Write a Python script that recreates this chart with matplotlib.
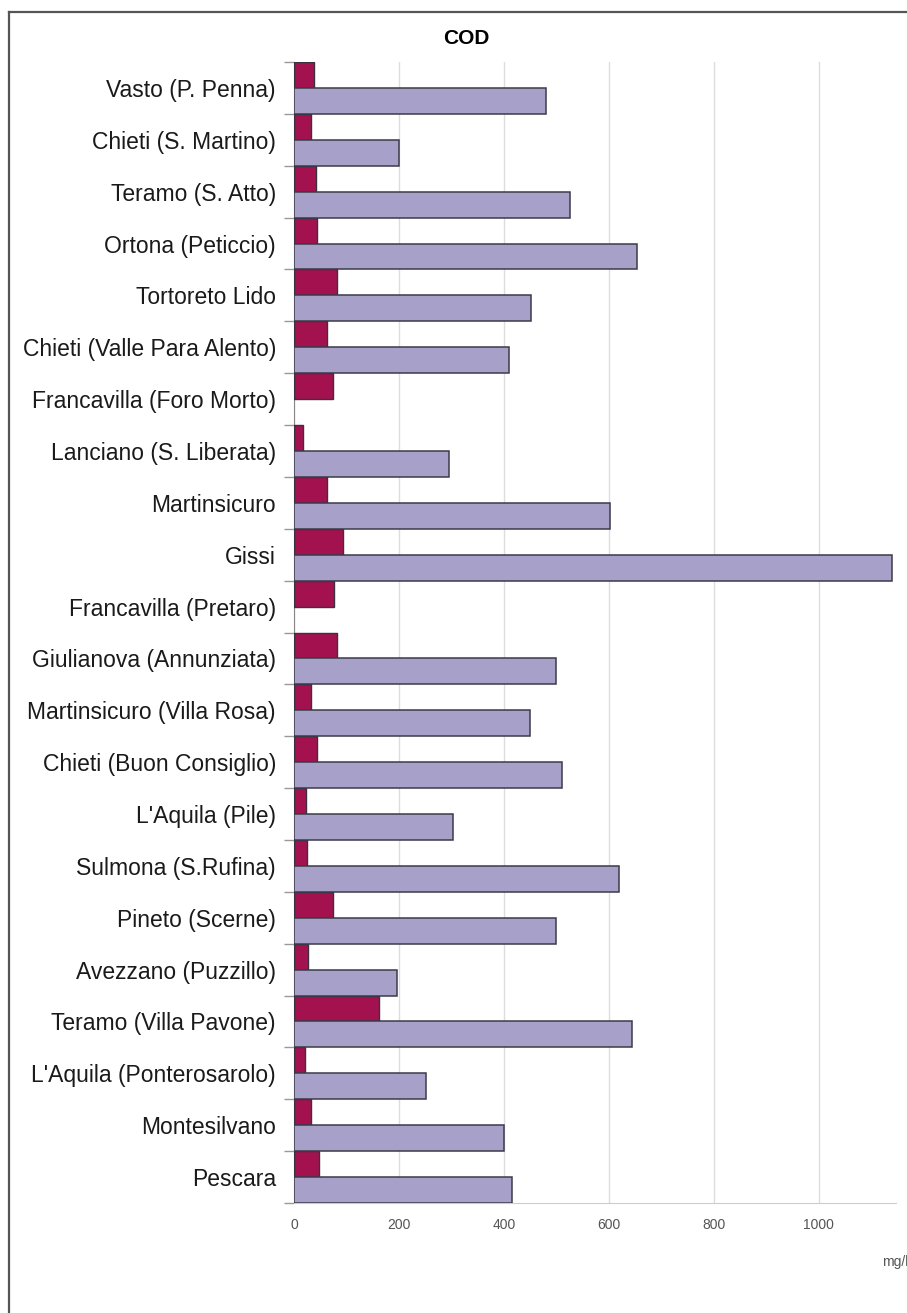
import numpy as np
import matplotlib.pyplot as plt
from matplotlib.lines import Line2D

# impianti, dall'alto verso il basso
impianti = ['Vasto (P. Penna)', 'Chieti (S. Martino)', 'Teramo (S. Atto)',
            'Ortona (Peticcio)', 'Tortoreto Lido', 'Chieti (Valle Para Alento)',
            'Francavilla (Foro Morto)', 'Lanciano (S. Liberata)', 'Martinsicuro',
            'Gissi', 'Francavilla (Pretaro)', 'Giulianova (Annunziata)',
            'Martinsicuro (Villa Rosa)', 'Chieti (Buon Consiglio)', "L'Aquila (Pile)",
            'Sulmona (S.Rufina)', 'Pineto (Scerne)', 'Avezzano (Puzzillo)',
            'Teramo (Villa Pavone)', "L'Aquila (Ponterosarolo)", 'Montesilvano',
            'Pescara']

# COD in uscita (barra scura) e in ingresso (barra chiara), mg/l
cod_uscita = [38, 32, 42, 43, 82, 63, 74, 17, 63, 93, 76, 82, 32, 43, 22, 24,
              74, 27, 162, 21, 32, 48]
cod_ingresso = [480, 200, 525, 653, 451, 409, np.nan, 295, 602, 1140, np.nan,
                500, 449, 511, 302, 619, 500, 196, 644, 251, 400, 415]

x_ticks = [0, 200, 400, 600, 800, 1000]

fig = plt.figure(figsize=(9.07, 13.13), dpi=100)
ax = fig.add_axes([294 / 907, 1 - 1203 / 1313, 602 / 907, (1203 - 62) / 1313])

y = np.arange(len(impianti))
ax.barh(y - 0.25, cod_uscita, height=0.5, color='#A3124F',
        edgecolor='#3a3040', linewidth=1.0, zorder=3)
ax.barh(y + 0.25, cod_ingresso, height=0.5, color='#A7A1C9',
        edgecolor='#3a3a48', linewidth=1.1, zorder=3)

ax.set_xlim(0, 1147)
ax.set_ylim(len(impianti) - 0.5, -0.5)

# tick sui bordi delle categorie, etichette al centro
ax.set_yticks(np.arange(-0.5, len(impianti), 1))
ax.set_yticklabels([])
ax.set_yticks(y, minor=True)
ax.set_yticklabels(impianti, minor=True, fontsize=16.5, family='Liberation Sans',
                   color='#1a1a1a')
ax.tick_params(axis='y', which='major', length=7, color='#999999', width=1)
ax.tick_params(axis='y', which='minor', length=0, pad=13)

ax.set_xticks(x_ticks)
ax.set_xticklabels([str(v) for v in x_ticks], fontsize=10,
                   family='Liberation Sans', color='#555555')
ax.tick_params(axis='x', length=0, pad=11)

ax.grid(axis='x', color='#dddddd', linewidth=1, zorder=0)
for s in ['top', 'right']:
    ax.spines[s].set_visible(False)
ax.spines['bottom'].set_color('#cccccc')
ax.spines['left'].set_color('#888888')

fig.text(466 / 907, 1 - 38 / 1313, 'COD', ha='center', va='center',
         fontsize=15, fontweight='bold', family='Liberation Sans')
fig.text(882 / 907, 1 - 1262 / 1313, 'mg/l', ha='left', va='center',
         fontsize=10, family='Liberation Sans', color='#555555')

# cornice esterna (solo lati sinistro e superiore visibili)
fig.add_artist(Line2D([9 / 907, 9 / 907], [0, 1 - 12 / 1313],
                      transform=fig.transFigure, color='#555555', linewidth=1.6))
fig.add_artist(Line2D([9 / 907, 1], [1 - 12 / 1313, 1 - 12 / 1313],
                      transform=fig.transFigure, color='#555555', linewidth=1.6))

fig.savefig('out.png', dpi=100)
